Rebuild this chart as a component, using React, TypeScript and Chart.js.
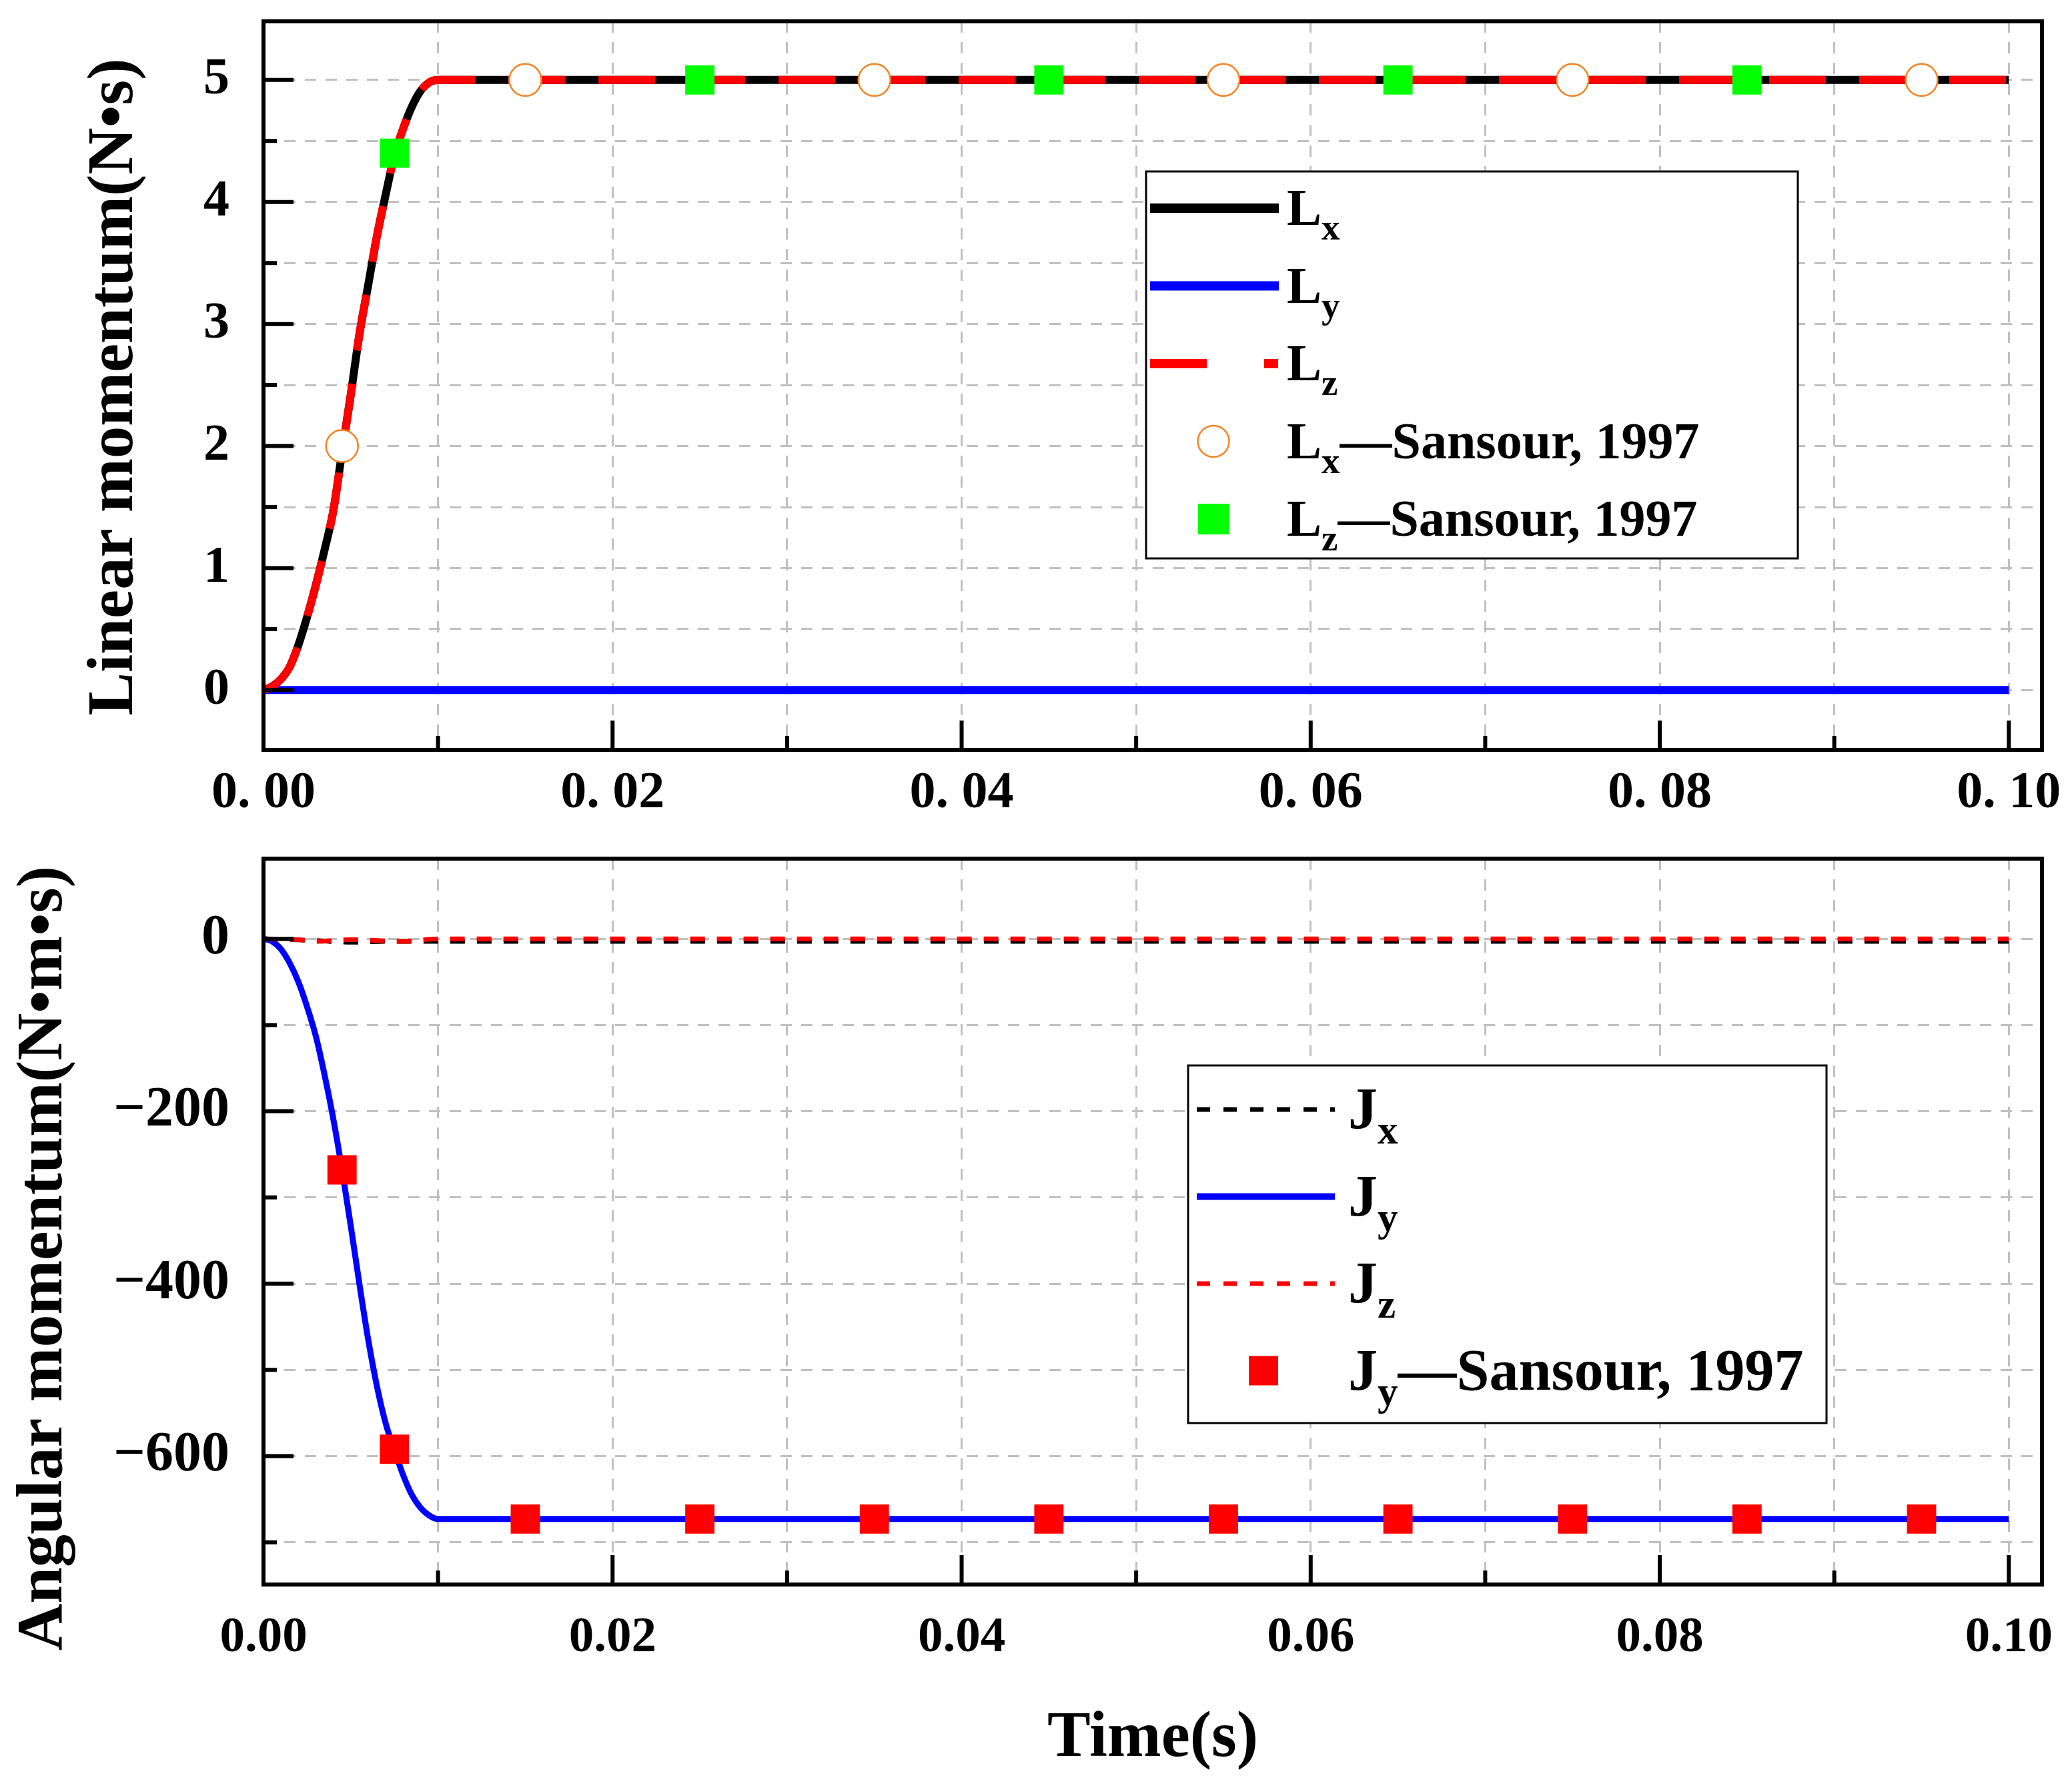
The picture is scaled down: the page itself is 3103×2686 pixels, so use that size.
import React, { useEffect, useRef } from "react";
import Chart from "chart.js/auto";

const FONT = "'Liberation Serif', 'Times New Roman', serif";
Chart.defaults.font.family = FONT;

// time axis, shared by both plots
const xMax = 0.1019;
const rampTime = [
  0, 0.0005, 0.001, 0.0015, 0.002, 0.0025, 0.003, 0.0035, 0.004, 0.0045, 0.005,
  0.0055, 0.006, 0.0065, 0.007, 0.0075, 0.008, 0.0085, 0.009, 0.0095, 0.01, 0.1,
];

// linear momentum (top)
const lxValues = [
  0, 0.03, 0.09, 0.19, 0.37, 0.6, 0.86, 1.15, 1.47, 1.95, 2.42,
  2.92, 3.32, 3.72, 4.06, 4.38, 4.6, 4.78, 4.91, 4.98, 5, 5,
];
const lzValues = [
  0, 0.03, 0.09, 0.19, 0.37, 0.6, 0.86, 1.15, 1.47, 1.95, 2.42,
  2.92, 3.32, 3.72, 4.06, 4.38, 4.6, 4.78, 4.91, 4.98, 5, 5,
];
const lyTime = [0, 0.1];
const lyValues = [0, 0];
const lxRefTime = [0.0045, 0.015, 0.035, 0.055, 0.075, 0.095];
const lxRefValues = [2, 5, 5, 5, 5, 5];
const lzRefTime = [0.0075, 0.025, 0.045, 0.065, 0.085];
const lzRefValues = [4.4, 5, 5, 5, 5];

// angular momentum (bottom)
const jyValues = [
  0, -3, -12, -28, -50, -79, -113, -158, -209, -268, -333,
  -401, -465, -519, -562, -593, -622, -645, -660, -669, -673, -673,
];
const jxTime = [0, 0.003, 0.005, 0.007, 0.01, 0.1];
const jxValues = [0, -2, -4, -3, -3, -3];
const jzTime = [0, 0.002, 0.003, 0.005, 0.008, 0.01, 0.1];
const jzValues = [0, -1, -3, -1, -3, 0, 0];
const jyRefTime = [0.0045, 0.0075, 0.015, 0.025, 0.035, 0.045, 0.055, 0.065, 0.075, 0.085, 0.095];
const jyRefValues = [-268, -592, -673, -673, -673, -673, -673, -673, -673, -673, -673];

const pts = (xs, ys) => xs.map((x, i) => ({ x, y: ys[i] }));

function drawLegend(ctx, L) {
  ctx.save();
  ctx.fillStyle = "#fff";
  ctx.fillRect(L.x, L.y, L.w, L.h);
  ctx.strokeStyle = "#000";
  ctx.lineWidth = 3;
  ctx.strokeRect(L.x, L.y, L.w, L.h);
  L.rows.forEach((r, i) => {
    const y = L.firstY + i * L.gap;
    if (r.line) {
      ctx.beginPath();
      ctx.setLineDash(r.line.dash || []);
      ctx.lineWidth = r.line.width;
      ctx.strokeStyle = r.line.color;
      ctx.lineCap = "butt";
      ctx.moveTo(L.lineX1, y);
      ctx.lineTo(L.lineX2, y);
      ctx.stroke();
      ctx.setLineDash([]);
    }
    if (r.marker) {
      const m = r.marker;
      if (m.style === "circle") {
        ctx.beginPath();
        ctx.arc(L.markerX, y, m.size / 2, 0, Math.PI * 2);
        ctx.fillStyle = "#fff";
        ctx.fill();
        ctx.lineWidth = 2.5;
        ctx.strokeStyle = m.color;
        ctx.stroke();
      } else {
        ctx.fillStyle = m.color;
        ctx.fillRect(L.markerX - m.size / 2, y - m.size / 2, m.size, m.size);
      }
    }
    ctx.fillStyle = "#000";
    ctx.textAlign = "left";
    ctx.textBaseline = "alphabetic";
    const base = y + L.capHalf;
    ctx.font = `bold ${L.size}px ${FONT}`;
    ctx.fillText(r.main, L.textX, base);
    let x = L.textX + ctx.measureText(r.main).width;
    ctx.font = `bold ${L.subSize}px ${FONT}`;
    ctx.fillText(r.sub, x, base + L.subDrop);
    x += ctx.measureText(r.sub).width;
    if (r.rest) {
      ctx.font = `bold ${L.size}px ${FONT}`;
      ctx.fillText(r.rest, x, base);
    }
  });
  ctx.restore();
}

// frame, inward ticks, rotated y title and the legend box
const decor = (cfg) => ({
  id: "decor",
  afterDraw(chart) {
    const { ctx, chartArea: a, scales } = chart;
    ctx.save();
    ctx.strokeStyle = "#000";
    ctx.lineWidth = 6;
    ctx.setLineDash([]);
    ctx.beginPath();
    scales.x.ticks.forEach((t) => {
      const px = scales.x.getPixelForValue(t.value);
      const len = t.label ? 44 : 21;
      ctx.moveTo(px, a.bottom);
      ctx.lineTo(px, a.bottom - len);
    });
    scales.y.ticks.forEach((t) => {
      const py = scales.y.getPixelForValue(t.value);
      const len = t.label ? 45 : 20;
      ctx.moveTo(a.left, py);
      ctx.lineTo(a.left + len, py);
    });
    ctx.stroke();
    ctx.strokeRect(a.left, a.top, a.right - a.left, a.bottom - a.top);

    ctx.fillStyle = "#000";
    ctx.font = `bold ${cfg.titleSize}px ${FONT}`;
    ctx.textAlign = "center";
    ctx.textBaseline = "alphabetic";
    ctx.translate(cfg.titleX, cfg.titleY);
    ctx.rotate(-Math.PI / 2);
    ctx.fillText(cfg.title, 0, 0);
    ctx.restore();

    drawLegend(ctx, cfg.legend);
  },
});

const gridOpts = { color: "#c0c0c0", lineWidth: 3, drawTicks: false };
const borderOpts = { display: false, dash: [17, 14] };

const lineSet = (label, data, color, width, dash, order) => ({
  label,
  data,
  showLine: true,
  borderColor: color,
  borderWidth: width,
  borderDash: dash,
  pointRadius: 0,
  cubicInterpolationMode: "monotone",
  borderJoinStyle: "round",
  order,
});

const markerSet = (label, data, style, radius, fill, stroke, bw) => ({
  label,
  data,
  showLine: false,
  pointStyle: style,
  pointRadius: radius,
  pointBackgroundColor: fill,
  pointBorderColor: stroke,
  pointBorderWidth: bw,
  order: 0,
});

function TopChart() {
  const ref = useRef(null);
  useEffect(() => {
    const chart = new Chart(ref.current, {
      type: "scatter",
      data: {
        datasets: [
          markerSet("Lx—Sansour, 1997", pts(lxRefTime, lxRefValues), "circle", 24, "#fff", "#f58220", 2.5),
          markerSet("Lz—Sansour, 1997", pts(lzRefTime, lzRefValues), "rect", 31, "#00ff00", "#00ff00", 0),
          lineSet("Lz", pts(rampTime, lzValues), "#ff0000", 12, [85, 50], 1),
          lineSet("Lx", pts(rampTime, lxValues), "#000000", 12, [], 2),
          lineSet("Ly", pts(lyTime, lyValues), "#0000ff", 12, [], 3),
        ],
      },
      options: {
        animation: false,
        responsive: false,
        devicePixelRatio: 1,
        layout: { padding: { top: 32, right: 42, left: 0, bottom: 0 } },
        plugins: { legend: { display: false }, tooltip: { enabled: false } },
        scales: {
          x: {
            type: "linear",
            min: 0,
            max: xMax,
            afterFit: (s) => {
              s.height = 116;
              s.paddingLeft = 0;
              s.paddingRight = 0;
            },
            grid: gridOpts,
            border: borderOpts,
            ticks: {
              stepSize: 0.01,
              includeBounds: false,
              autoSkip: false,
              maxRotation: 0,
              padding: 19,
              color: "#000",
              font: { size: 78, weight: "bold" },
              callback: (v) => {
                const k = Math.round(v * 100);
                return k % 2 === 0 ? "0. " + String(k).padStart(2, "0") : "";
              },
            },
          },
          y: {
            min: -0.49,
            max: 5.48,
            afterFit: (s) => {
              s.width = 395;
              s.paddingTop = 0;
              s.paddingBottom = 0;
            },
            grid: gridOpts,
            border: borderOpts,
            ticks: {
              stepSize: 0.5,
              includeBounds: false,
              autoSkip: false,
              padding: 51,
              color: "#000",
              font: { size: 78, weight: "bold" },
              callback: (v) => (Number.isInteger(v) ? String(v) : ""),
            },
          },
        },
      },
      plugins: [
        decor({
          title: "Linear momentum(N•s)",
          titleSize: 97,
          titleX: 198,
          titleY: 580,
          legend: {
            x: 1718, y: 257, w: 977, h: 580,
            firstY: 312, gap: 116.5,
            lineX1: 1724, lineX2: 1917, markerX: 1819, textX: 1929,
            size: 78, subSize: 55, subDrop: 22, capHalf: 25,
            rows: [
              { line: { color: "#000", width: 14 }, main: "L", sub: "x" },
              { line: { color: "#0000ff", width: 14 }, main: "L", sub: "y" },
              { line: { color: "#ff0000", width: 14, dash: [85, 86, 21, 50] }, main: "L", sub: "z" },
              { marker: { style: "circle", size: 47, color: "#f58220" }, main: "L", sub: "x", rest: "—Sansour, 1997" },
              { marker: { style: "square", size: 46, color: "#00ff00" }, main: "L", sub: "z", rest: "—Sansour, 1997" },
            ],
          },
        }),
      ],
    });
    return () => chart.destroy();
  }, []);
  return <canvas ref={ref} width={3103} height={1240} style={{ display: "block", width: 3103, height: 1240 }} />;
}

function BottomChart() {
  const ref = useRef(null);
  useEffect(() => {
    const chart = new Chart(ref.current, {
      type: "scatter",
      data: {
        datasets: [
          markerSet("Jy—Sansour, 1997", pts(jyRefTime, jyRefValues), "rect", 31, "#ff0000", "#ff0000", 0),
          lineSet("Jz", pts(jzTime, jzValues), "#ff0000", 7, [22, 18], 1),
          lineSet("Jx", pts(jxTime, jxValues), "#000000", 7, [22, 18], 2),
          lineSet("Jy", pts(rampTime, jyValues), "#0000ff", 9, [], 3),
        ],
      },
      options: {
        animation: false,
        responsive: false,
        devicePixelRatio: 1,
        layout: { padding: { top: 47, right: 42, left: 0, bottom: 0 } },
        plugins: { legend: { display: false }, tooltip: { enabled: false } },
        scales: {
          x: {
            type: "linear",
            min: 0,
            max: xMax,
            afterFit: (s) => {
              s.height = 311;
              s.paddingLeft = 0;
              s.paddingRight = 0;
            },
            grid: gridOpts,
            border: borderOpts,
            title: {
              display: true,
              text: "Time(s)",
              color: "#000",
              font: { size: 97, weight: "bold" },
              padding: { top: 0, bottom: 21 },
            },
            ticks: {
              stepSize: 0.01,
              includeBounds: false,
              autoSkip: false,
              maxRotation: 0,
              padding: 36,
              color: "#000",
              font: { size: 75, weight: "bold" },
              callback: (v) => {
                const k = Math.round(v * 100);
                return k % 2 === 0 ? "0." + String(k).padStart(2, "0") : "";
              },
            },
          },
          y: {
            min: -749,
            max: 93,
            afterFit: (s) => {
              s.width = 395;
              s.paddingTop = 0;
              s.paddingBottom = 0;
            },
            grid: gridOpts,
            border: borderOpts,
            ticks: {
              stepSize: 100,
              includeBounds: false,
              autoSkip: false,
              padding: 51,
              color: "#000",
              font: { size: 84, weight: "bold" },
              callback: (v) => (v === 0 ? "0" : v % 200 === 0 ? "−" + Math.abs(v) : ""),
            },
          },
        },
      },
      plugins: [
        decor({
          title: "Angular momentum(N•m•s)",
          titleSize: 98,
          titleX: 92,
          titleY: 646,
          legend: {
            x: 1781, y: 357, w: 957, h: 536,
            firstY: 423, gap: 130.5,
            lineX1: 1794, lineX2: 2001, markerX: 1894, textX: 2021,
            size: 88, subSize: 61, subDrop: 23, capHalf: 28,
            rows: [
              { line: { color: "#000", width: 7, dash: [20, 20] }, main: "J", sub: "x" },
              { line: { color: "#0000ff", width: 10 }, main: "J", sub: "y" },
              { line: { color: "#ff0000", width: 7, dash: [20, 20] }, main: "J", sub: "z" },
              { marker: { style: "square", size: 44, color: "#ff0000" }, main: "J", sub: "y", rest: "—Sansour, 1997" },
            ],
          },
        }),
      ],
    });
    return () => chart.destroy();
  }, []);
  return <canvas ref={ref} width={3103} height={1446} style={{ display: "block", width: 3103, height: 1446 }} />;
}

export default function App() {
  return (
    <div style={{ position: "absolute", left: 0, top: 0, width: 3103, height: 2686, background: "#fff" }}>
      <TopChart />
      <BottomChart />
    </div>
  );
}
